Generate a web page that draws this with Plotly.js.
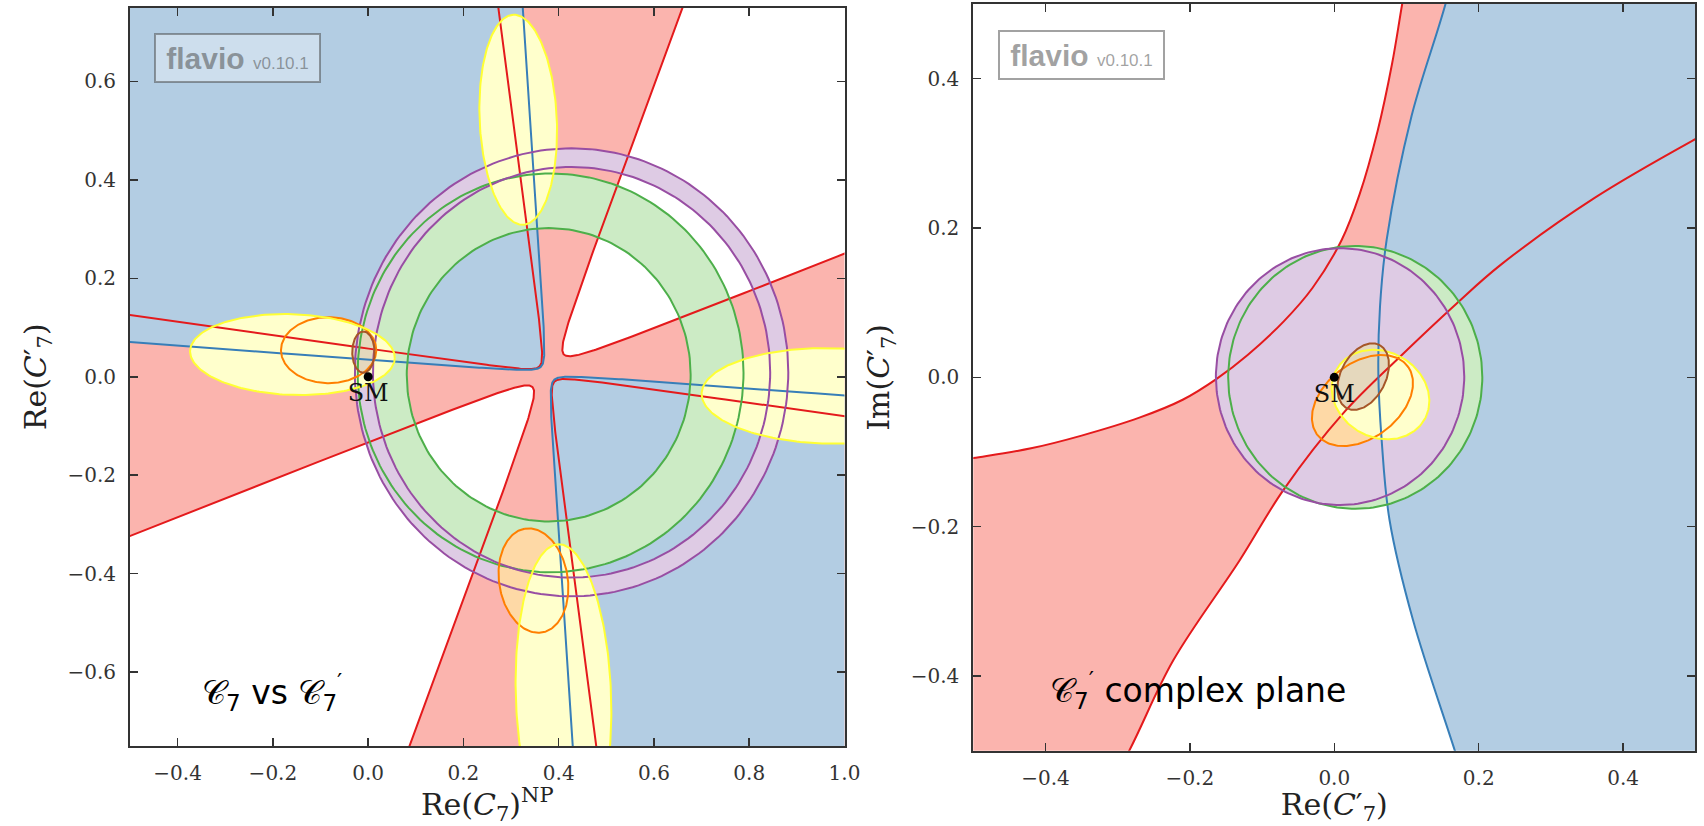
<!DOCTYPE html>
<html>
<head>
<meta charset="utf-8">
<script src="https://cdn.plot.ly/plotly-3.0.1.min.js"></script>
<style>
html, body { margin: 0; padding: 0; background: #ffffff; }
#chart { width: 1704px; height: 826px; }
</style>
</head>
<body>
<div id="chart"></div>
<script>
// ================= DATA =================
// ---- Left panel: Re(C7)^NP vs Re(C7') ----
const leftXRange = [-0.5, 1.0];
const leftYRange = [-0.75, 0.75];
const leftXTicks = [-0.4, -0.2, 0.0, 0.2, 0.4, 0.6, 0.8, 1.0];
const leftYTicks = [-0.6, -0.4, -0.2, 0.0, 0.2, 0.4, 0.6];
// hyperbolic contours: [centre x, centre y, flat asymptote dy/dx, steep asymptote dx/dy, gap k]
const blueBandL = [0.3765, 0.007, -0.072, -0.0683, 0.00016];
const redBandOpenL = [0.378, 0.012, 0.381, 0.380, 0.00042];
const redBandCrossL = [0.3753, 0.0055, -0.1365, -0.1355, 0.00018];
// circles: [centre x, centre y, radius]  (inner, outer)
const greenCirclesL = [[0.379, 0.004, 0.298], [0.383, 0.008, 0.405]];
const purpleCirclesL = [[0.427, 0.009, 0.417], [0.427, 0.009, 0.455]];
// ellipses: [centre x, centre y, semi-axis a, semi-axis b, angle of a in degrees]
const orangeEllipsesL = [[-0.083, 0.054, 0.100, 0.067, 0], [0.347, -0.414, 0.107, 0.072, 100]];
const yellowEllipsesL = [[-0.159, 0.045, 0.215, 0.082, -2], [0.315, 0.522, 0.2135, 0.081, 92.8],
                         [0.97, -0.039, 0.27, 0.097, -1], [0.41, -0.65, 0.31, 0.10, 92]];
const brownEllipsesL = [[-0.010, 0.050, 0.042, 0.0235, 90]];

// ---- Right panel: C7' complex plane ----
const rightRange = [-0.5, 0.5];
const rightTicks = [-0.4, -0.2, 0.0, 0.2, 0.4];
const redUpperX = [-0.62, -0.5, -0.42, -0.35, -0.27, -0.21, -0.163, -0.12, -0.07, -0.03, 0.0102, 0.035, 0.06, 0.08, 0.094, 0.112];
const redUpperY = [-0.125, -0.108, -0.095, -0.078, -0.054, -0.03, -0.002, 0.03, 0.075, 0.12, 0.184, 0.245, 0.33, 0.42, 0.5, 0.6];
const redLowerX = [-0.34, -0.284, -0.223, -0.131, -0.0706, 0.0125, 0.091, 0.1695, 0.2295, 0.36, 0.5, 0.6];
const redLowerY = [-0.6, -0.5, -0.379, -0.245, -0.151, -0.048, 0.0276, 0.099, 0.150, 0.24, 0.319, 0.37];
const blueEdgeX = [0.185, 0.154, 0.107, 0.0725, 0.0633, 0.061, 0.0656, 0.0765, 0.109, 0.167, 0.2];
const blueEdgeY = [0.62, 0.5, 0.35, 0.184, 0.0946, 0.005, -0.084, -0.191, -0.325, -0.5, -0.6];
const greenCircleR = [0.029, 0.000, 0.176];
const purpleCircleR = [0.008, 0.001, 0.172];
const orangeEllipseR = [0.039, -0.031, 0.0777, 0.0508, 35];
const yellowEllipseR = [0.064, -0.023, 0.0696, 0.0577, -25];
const brownEllipseR = [0.040, 0.001, 0.048, 0.031, 61];

const smPoint = [0.0, 0.0];
const smLabel = 'SM';

// colours
const FILL = {red: '#fbb4ae', blue: '#b3cde3', green: '#ccebc5', purple: '#decbe4', orange: '#fed9a6', yellow: '#ffffcc', brown: '#e5d8bd'};
const LINE = {red: '#e41a1c', blue: '#377eb8', green: '#4daf4a', purple: '#984ea3', orange: '#ff7f00', yellow: '#ffff33', brown: '#a65628'};

// ================= GEOMETRY HELPERS =================
function ellipsePts(e, N) {
  N = N || 220;
  const cx = e[0], cy = e[1], a = e[2], b = e[3], th = e[4] * Math.PI / 180;
  const xs = [], ys = [];
  for (let i = 0; i <= N; i++) {
    const t = 2 * Math.PI * i / N;
    const u = a * Math.cos(t), v = b * Math.sin(t);
    xs.push(cx + u * Math.cos(th) - v * Math.sin(th));
    ys.push(cy + u * Math.sin(th) + v * Math.cos(th));
  }
  return {x: xs, y: ys};
}
function circlePts(c, N) { return ellipsePts([c[0], c[1], c[2], c[2], 0], N); }
// one branch of a hyperbola a*b = sa*sb*k, a = dy - m dx, b = dx - n dy
function hyperBranch(p, sa, sb) {
  const xc = p[0], yc = p[1], m = p[2], n = p[3], k = p[4];
  const xs = [], ys = [];
  const N = 240, tmin = k / 2.5, tmax = 2.5;
  for (let i = 0; i <= N; i++) {
    const t = tmin * Math.pow(tmax / tmin, i / N);
    const b = sb * t, a = sa * k / t;
    const dy = (a + m * b) / (1 - m * n);
    const dx = b + n * dy;
    xs.push(xc + dx); ys.push(yc + dy);
  }
  return {x: xs, y: ys};
}

const traces = [];
const AX_L = ['x', 'y'], AX_R = ['x2', 'y2'];
function fillTrace(x, y, color, ax, shape) {
  traces.push({type: 'scatter', mode: 'lines', x: x, y: y, fill: 'toself', fillcolor: color,
    line: {width: 0, shape: shape || 'linear'}, hoverinfo: 'skip', showlegend: false, xaxis: ax[0], yaxis: ax[1]});
}
function lineTrace(x, y, color, ax, shape) {
  traces.push({type: 'scatter', mode: 'lines', x: x, y: y,
    line: {color: color, width: 2, shape: shape || 'linear'}, hoverinfo: 'skip', showlegend: false, xaxis: ax[0], yaxis: ax[1]});
}
function annulus(outer, inner) {
  const o = circlePts(outer), i = circlePts(inner);
  return {x: o.x.concat(i.x.slice().reverse()), y: o.y.concat(i.y.slice().reverse())};
}

// ================= LEFT PANEL =================
(function () {
  // red region: everything except the two white wedges of the open red contour
  const p = redBandOpenL;
  const ur = hyperBranch(p, 1, 1), ll = hyperBranch(p, -1, -1);
  fillTrace(ur.x.concat([p[0] + 3]).concat(ll.x).concat([p[0] - 3]),
            ur.y.concat([p[1] - 3]).concat(ll.y).concat([p[1] + 3]), FILL.red, AX_L);
  // blue region
  const q = blueBandL;
  const bul = hyperBranch(q, 1, -1), blr = hyperBranch(q, -1, 1);
  fillTrace(bul.x.concat([q[0] - 3]), bul.y.concat([q[1] + 3]), FILL.blue, AX_L);
  fillTrace(blr.x.concat([q[0] + 3]), blr.y.concat([q[1] - 3]), FILL.blue, AX_L);
  // rings
  const g = annulus(greenCirclesL[1], greenCirclesL[0]);
  fillTrace(g.x, g.y, FILL.green, AX_L);
  const pr = annulus(purpleCirclesL[1], purpleCirclesL[0]);
  fillTrace(pr.x, pr.y, FILL.purple, AX_L);
  orangeEllipsesL.forEach(e => { const s = ellipsePts(e); fillTrace(s.x, s.y, FILL.orange, AX_L); });
  yellowEllipsesL.forEach(e => { const s = ellipsePts(e); fillTrace(s.x, s.y, FILL.yellow, AX_L); });
  brownEllipsesL.forEach(e => { const s = ellipsePts(e); fillTrace(s.x, s.y, FILL.brown, AX_L); });

  // contour lines
  [ur, ll].forEach(s => lineTrace(s.x, s.y, LINE.red, AX_L));
  const c = redBandCrossL;
  [hyperBranch(c, 1, -1), hyperBranch(c, -1, 1)].forEach(s => lineTrace(s.x, s.y, LINE.red, AX_L));
  [bul, blr].forEach(s => lineTrace(s.x, s.y, LINE.blue, AX_L));
  greenCirclesL.forEach(cc => { const s = circlePts(cc); lineTrace(s.x, s.y, LINE.green, AX_L); });
  purpleCirclesL.forEach(cc => { const s = circlePts(cc); lineTrace(s.x, s.y, LINE.purple, AX_L); });
  orangeEllipsesL.forEach(e => { const s = ellipsePts(e); lineTrace(s.x, s.y, LINE.orange, AX_L); });
  yellowEllipsesL.forEach(e => { const s = ellipsePts(e); lineTrace(s.x, s.y, LINE.yellow, AX_L); });
  brownEllipsesL.forEach(e => { const s = ellipsePts(e); lineTrace(s.x, s.y, LINE.brown, AX_L); });
})();

// ================= RIGHT PANEL =================
(function () {
  const big = 0.75;
  fillTrace(redUpperX.concat([big]).concat(redLowerX.slice().reverse()).concat([-big]),
            redUpperY.concat([big]).concat(redLowerY.slice().reverse()).concat([-big]), FILL.red, AX_R, 'spline');
  fillTrace(blueEdgeX.concat([big, big]), blueEdgeY.concat([-big, big]), FILL.blue, AX_R, 'spline');
  let s = circlePts(greenCircleR); fillTrace(s.x, s.y, FILL.green, AX_R);
  s = circlePts(purpleCircleR); fillTrace(s.x, s.y, FILL.purple, AX_R);
  s = ellipsePts(orangeEllipseR); fillTrace(s.x, s.y, FILL.orange, AX_R);
  s = ellipsePts(yellowEllipseR); fillTrace(s.x, s.y, FILL.yellow, AX_R);
  s = ellipsePts(brownEllipseR); fillTrace(s.x, s.y, FILL.brown, AX_R);

  lineTrace(redUpperX, redUpperY, LINE.red, AX_R, 'spline');
  lineTrace(redLowerX, redLowerY, LINE.red, AX_R, 'spline');
  lineTrace(blueEdgeX, blueEdgeY, LINE.blue, AX_R, 'spline');
  s = circlePts(greenCircleR); lineTrace(s.x, s.y, LINE.green, AX_R);
  s = circlePts(purpleCircleR); lineTrace(s.x, s.y, LINE.purple, AX_R);
  s = ellipsePts(orangeEllipseR); lineTrace(s.x, s.y, LINE.orange, AX_R);
  s = ellipsePts(yellowEllipseR); lineTrace(s.x, s.y, LINE.yellow, AX_R);
  s = ellipsePts(brownEllipseR); lineTrace(s.x, s.y, LINE.brown, AX_R);
})();

// SM points
[AX_L, AX_R].forEach(ax => {
  traces.push({type: 'scatter', mode: 'markers+text', x: [smPoint[0]], y: [smPoint[1]], text: [smLabel],
    textposition: 'bottom center', textfont: {family: 'DejaVu Serif', size: 24, color: '#111'},
    marker: {color: '#000', size: 9}, hoverinfo: 'skip', showlegend: false, xaxis: ax[0], yaxis: ax[1], cliponaxis: false});
});

// ================= LAYOUT =================
const W = 1704, H = 826;
function axis(extra) {
  return Object.assign({
    showgrid: false, zeroline: false, showline: true, linecolor: '#333', linewidth: 2, mirror: 'ticks',
    ticks: 'inside', ticklen: 8, tickwidth: 1.5, tickcolor: '#333', tickmode: 'array', tickformat: '.1f',
    tickfont: {family: 'DejaVu Serif', size: 20, color: '#333'}, ticklabelstandoff: 8, fixedrange: true
  }, extra);
}
const titleFont = {family: 'DejaVu Serif', size: 30, color: '#222'};
const watermark = '<b>flavio</b> <span style="font-size:17px">v0.10.1</span>';

const layout = {
  width: W, height: H, margin: {l: 0, r: 0, t: 0, b: 0},
  paper_bgcolor: '#ffffff', plot_bgcolor: '#ffffff', showlegend: false,
  xaxis: axis({domain: [130 / W, 844.5 / W], range: leftXRange, tickvals: leftXTicks, anchor: 'y',
    title: {text: 'Re(<i>C</i><sub>7</sub>)<sup>NP</sup>', font: titleFont, standoff: 10}}),
  yaxis: axis({domain: [1 - 746 / H, 1 - 7.5 / H], range: leftYRange, tickvals: leftYTicks, anchor: 'x',
    title: {text: 'Re(<i>C</i>′<sub>7</sub>)', font: titleFont, standoff: 12}}),
  xaxis2: axis({domain: [973.3 / W, 1695.3 / W], range: rightRange, tickvals: rightTicks, anchor: 'y2',
    title: {text: 'Re(<i>C</i>′<sub>7</sub>)', font: titleFont, standoff: 10}}),
  yaxis2: axis({domain: [1 - 750.7 / H, 1 - 4 / H], range: rightRange, tickvals: rightTicks, anchor: 'x2',
    title: {text: 'Im(<i>C</i>′<sub>7</sub>)', font: titleFont, standoff: 12}}),
  annotations: [
    {xref: 'x', yref: 'y', x: -0.4496, y: 0.6982, xanchor: 'left', yanchor: 'top', showarrow: false,
     text: watermark, font: {family: 'Liberation Sans', size: 30, color: 'rgba(70,70,70,0.5)'},
     bgcolor: 'rgba(255,255,255,0.35)', bordercolor: 'rgba(70,70,70,0.5)', borderwidth: 2, borderpad: 4,
     width: 155, height: 38},
    {xref: 'x2', yref: 'y2', x: -0.4658, y: 0.4652, xanchor: 'left', yanchor: 'top', showarrow: false,
     text: watermark, font: {family: 'Liberation Sans', size: 30, color: 'rgba(70,70,70,0.5)'},
     bgcolor: 'rgba(255,255,255,0.35)', bordercolor: 'rgba(70,70,70,0.5)', borderwidth: 2, borderpad: 4,
     width: 155, height: 38},
    {xref: 'x', yref: 'y', x: -0.2019, y: -0.6408, xanchor: 'center', yanchor: 'middle', showarrow: false,
     text: '𝒞<sub>7</sub> vs 𝒞<sub>7</sub><sup>′</sup>', font: {family: 'DejaVu Sans', size: 33, color: '#000'}},
    {xref: 'x2', yref: 'y2', x: -0.1888, y: -0.4188, xanchor: 'center', yanchor: 'middle', showarrow: false,
     text: '𝒞<sub>7</sub><sup>′</sup> complex plane', font: {family: 'DejaVu Sans', size: 33, color: '#000'}}
  ]
};

Plotly.newPlot('chart', traces, layout, {displayModeBar: false, staticPlot: true});
</script>
</body>
</html>
